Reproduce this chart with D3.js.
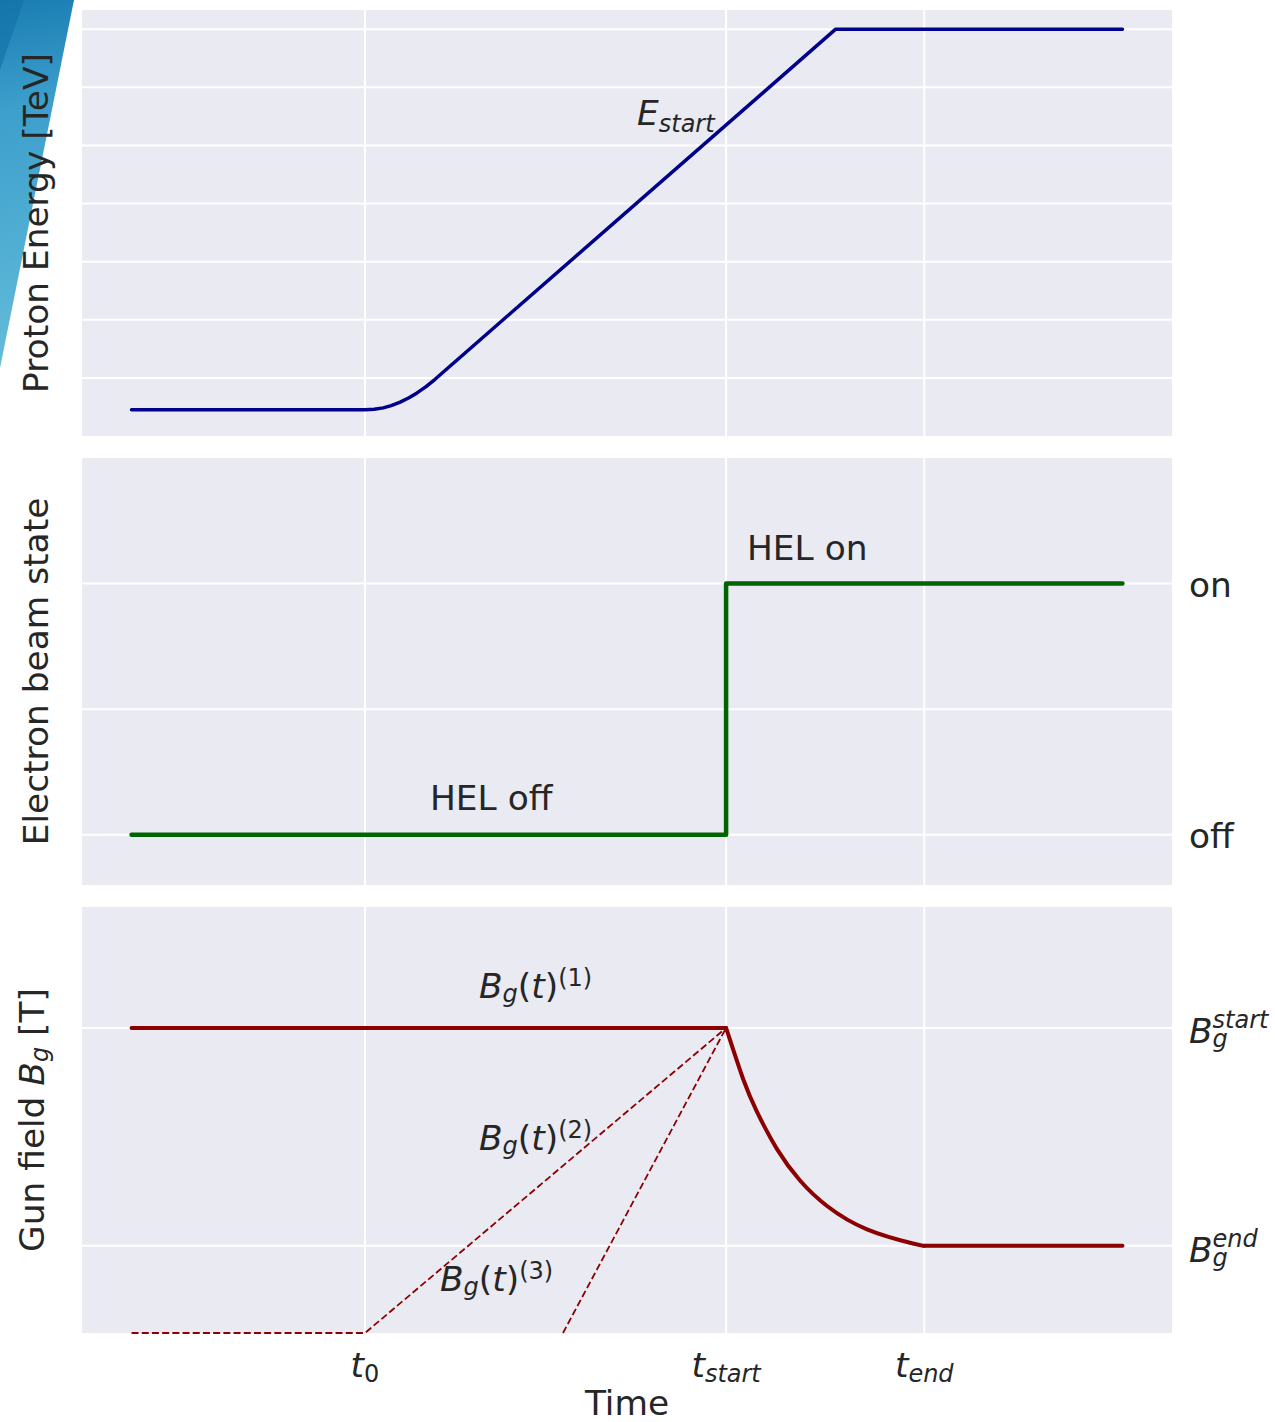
<!DOCTYPE html>
<html>
<head>
<meta charset="utf-8">
<script src="https://cdn.jsdelivr.net/npm/d3@7"></script>
<style>
  html, body { margin: 0; padding: 0; background: #ffffff; }
  svg { display: block; }
  text { font-family: "DejaVu Sans", sans-serif; fill: #262626; }
</style>
</head>
<body>
<svg id="chart" width="1275" height="1422"></svg>
<script>
// ---------------- data ----------------
const xTickVals   = [2.356, 6.0, 8.0];          // t0, t_start, t_end
const xTickBase   = ["t", "t", "t"];
const xTickSub    = ["0", "start", "end"];
const xTickSubIt  = [false, true, true];

// Panel 1: proton energy [TeV]
const energyGrid  = [1, 2, 3, 4, 5, 6, 7];
const energyT     = [0, 2.356, 2.449, 2.54, 2.62, 2.711, 2.80, 2.881, 2.972, 3.063, 7.106, 10];
const energyE     = [0.45, 0.45, 0.459, 0.484, 0.522, 0.582, 0.658, 0.741, 0.85, 0.976, 7, 7];

// Panel 2: electron beam state (0 = off, 1 = on)
const stateGrid   = [0, 0.5, 1];
const stateLabels = ["off", "", "on"];
const stateT      = [0, 6.0, 6.0, 10];
const stateV      = [0, 0, 1, 1];

// Panel 3: gun field
const gunGrid       = [0, 1];
const gunFlatT1     = [0, 6.0];
const gunFlatB1     = [1, 1];
const gunDecayT     = [6.0, 6.171, 6.312, 6.514, 6.746, 7.019, 7.422, 7.886, 8.0];
const gunDecayB     = [1.0, 0.767, 0.615, 0.444, 0.300, 0.183, 0.076, 0.011, 0.0];
const gunFlatT2     = [8.0, 10];
const gunFlatB2     = [0, 0];
const gunDash2T     = [0, 2.356, 6.0];
const gunDash2B     = [-0.4, -0.4, 1.0];
const gunDash3T     = [4.354, 6.0];
const gunDash3B     = [-0.4, 1.0];

// ---------------- layout ----------------
const L = 82, R = 1172;
const P1 = {top: 10,  bottom: 436};
const P2 = {top: 458, bottom: 885};
const P3 = {top: 907, bottom: 1333};
const BG = "#EAEAF2";
const FS = 34.4, FSS = 24;

const svg = d3.select("#chart");

// decorative wedge top-left
const defs = svg.append("defs");
const grad = defs.append("linearGradient").attr("id", "wedge")
  .attr("gradientUnits", "userSpaceOnUse")
  .attr("x1", 0).attr("y1", 0).attr("x2", 60).attr("y2", 360);
grad.append("stop").attr("offset", 0).attr("stop-color", "#1a7db2");
grad.append("stop").attr("offset", 0.3).attr("stop-color", "#3d9fcc");
grad.append("stop").attr("offset", 1).attr("stop-color", "#63bcda");
svg.append("polygon").attr("points", "0,0 74,0 0,368").attr("fill", "url(#wedge)");
svg.append("polygon").attr("points", "0,0 24,0 0,70").attr("fill", "#1474aa").attr("opacity", 0.7);

const x = d3.scaleLinear().domain([-0.5, 10.5]).range([L, R]);
const y1 = d3.scaleLinear().domain([0, 7.33]).range([P1.bottom, P1.top]);
const y2 = d3.scaleLinear().domain([-0.2, 1.5]).range([P2.bottom, P2.top]);
const y3 = d3.scaleLinear().domain([-0.4, 1.555]).range([P3.bottom, P3.top]);

function panel(P, y, grid) {
  const g = svg.append("g");
  g.append("rect").attr("x", L).attr("y", P.top).attr("width", R - L)
    .attr("height", P.bottom - P.top).attr("fill", BG);
  g.selectAll(".hg").data(grid).join("line")
    .attr("x1", L).attr("x2", R).attr("y1", d => y(d)).attr("y2", d => y(d))
    .attr("stroke", "#fff").attr("stroke-width", 2);
  g.selectAll(".vg").data(xTickVals).join("line")
    .attr("x1", d => x(d)).attr("x2", d => x(d)).attr("y1", P.top).attr("y2", P.bottom)
    .attr("stroke", "#fff").attr("stroke-width", 2);
  return g;
}

function drawLine(g, T, V, y, color, width, dash, curve) {
  const pts = T.map((t, i) => [t, V[i]]);
  const line = d3.line().x(d => x(d[0])).y(d => y(d[1])).curve(curve || d3.curveLinear);
  g.append("path").attr("d", line(pts)).attr("fill", "none")
    .attr("stroke", color).attr("stroke-width", width)
    .attr("stroke-linejoin", "round").attr("stroke-linecap", dash ? "butt" : "round")
    .attr("stroke-dasharray", dash || null);
}

// parts: [text, size, dy, italic, dx]
function mathText(parent, px, py, parts, anchor, transform) {
  const t = parent.append("text").attr("x", px).attr("y", py)
    .attr("text-anchor", anchor || "start");
  if (transform) t.attr("transform", transform);
  parts.forEach(p => {
    const s = t.append("tspan").text(p[0]).attr("font-size", p[1]);
    if (p[2]) s.attr("dy", p[2]);
    if (p[3]) s.attr("font-style", "italic");
    if (p[4]) s.attr("dx", p[4]);
  });
  return t;
}

// stacked sub+sup: B_g^{sup}
function bSubSup(parent, px, py, sup) {
  const t = parent.append("text").attr("x", px).attr("y", py);
  t.append("tspan").text("B").attr("font-size", FS).attr("font-style", "italic");
  const gs = t.append("tspan").text("g").attr("font-size", FSS).attr("font-style", "italic").attr("dy", 4);
  const w = gs.node().getComputedTextLength();
  t.append("tspan").text(sup).attr("font-size", FSS).attr("font-style", "italic")
    .attr("dy", -19).attr("dx", -w);
}

// ---------- Panel 1 ----------
const g1 = panel(P1, y1, energyGrid);
drawLine(g1, energyT, energyE, y1, "#00008B", 3.5);
mathText(g1, 637, 125, [["E", FS, 0, true], ["start", FSS, 7, true]]);

// ---------- Panel 2 ----------
const g2 = panel(P2, y2, stateGrid);
drawLine(g2, stateT, stateV, y2, "#006400", 4.5);
g2.append("text").attr("x", 747).attr("y", 560).attr("font-size", FS).text("HEL on");
g2.append("text").attr("x", 430).attr("y", 810).attr("font-size", FS).text("HEL off");
g2.selectAll(".rt").data(stateGrid.filter((d, i) => stateLabels[i] !== "")).join("text")
  .attr("x", 1189).attr("y", d => y2(d) + 13).attr("font-size", FS)
  .text(d => stateLabels[stateGrid.indexOf(d)]);

// ---------- Panel 3 ----------
const g3 = panel(P3, y3, gunGrid);
drawLine(g3, gunDash2T, gunDash2B, y3, "#8B0000", 1.8, "7,3.2");
drawLine(g3, gunDash3T, gunDash3B, y3, "#8B0000", 1.8, "7,3.2");
drawLine(g3, gunFlatT1, gunFlatB1, y3, "#8B0000", 4);
drawLine(g3, gunDecayT, gunDecayB, y3, "#8B0000", 4, null, d3.curveNatural);
drawLine(g3, gunFlatT2, gunFlatB2, y3, "#8B0000", 4);

function bgt(px, py, n) {
  mathText(g3, px, py, [["B", FS, 0, true], ["g", FSS, 4, true], ["(", FS, -4, false],
    ["t", FS, 0, true], [")", FS, 0, false], ["(" + n + ")", FSS, -12, false]]);
}
bgt(479, 998, 1);
bgt(479, 1150, 2);
bgt(440, 1291, 3);

bSubSup(g3, 1189, y3(1) + 15, "start");
bSubSup(g3, 1189, y3(0) + 16, "end");

// ---------- x axis ----------
xTickVals.forEach((v, i) => {
  mathText(svg, x(v), 1377, [[xTickBase[i], FS, 0, true], [xTickSub[i], FSS, 5, xTickSubIt[i]]], "middle");
});
svg.append("text").attr("x", (L + R) / 2).attr("y", 1415).attr("font-size", FS)
  .attr("text-anchor", "middle").text("Time");

// ---------- y labels ----------
const c1 = (P1.top + P1.bottom) / 2, c2 = (P2.top + P2.bottom) / 2, c3 = (P3.top + P3.bottom) / 2;
svg.append("text").attr("transform", `translate(48,${c1}) rotate(-90)`)
  .attr("text-anchor", "middle").attr("font-size", FS).text("Proton Energy [TeV]");
svg.append("text").attr("transform", `translate(48,${c2}) rotate(-90)`)
  .attr("text-anchor", "middle").attr("font-size", FS).text("Electron beam state");
mathText(svg, 0, 0, [["Gun field ", FS, 0, false], ["B", FS, 0, true], ["g", FSS, 4, true], [" [T]", FS, -4, false]],
  "middle", `translate(44,${c3}) rotate(-90)`);
</script>
</body>
</html>
